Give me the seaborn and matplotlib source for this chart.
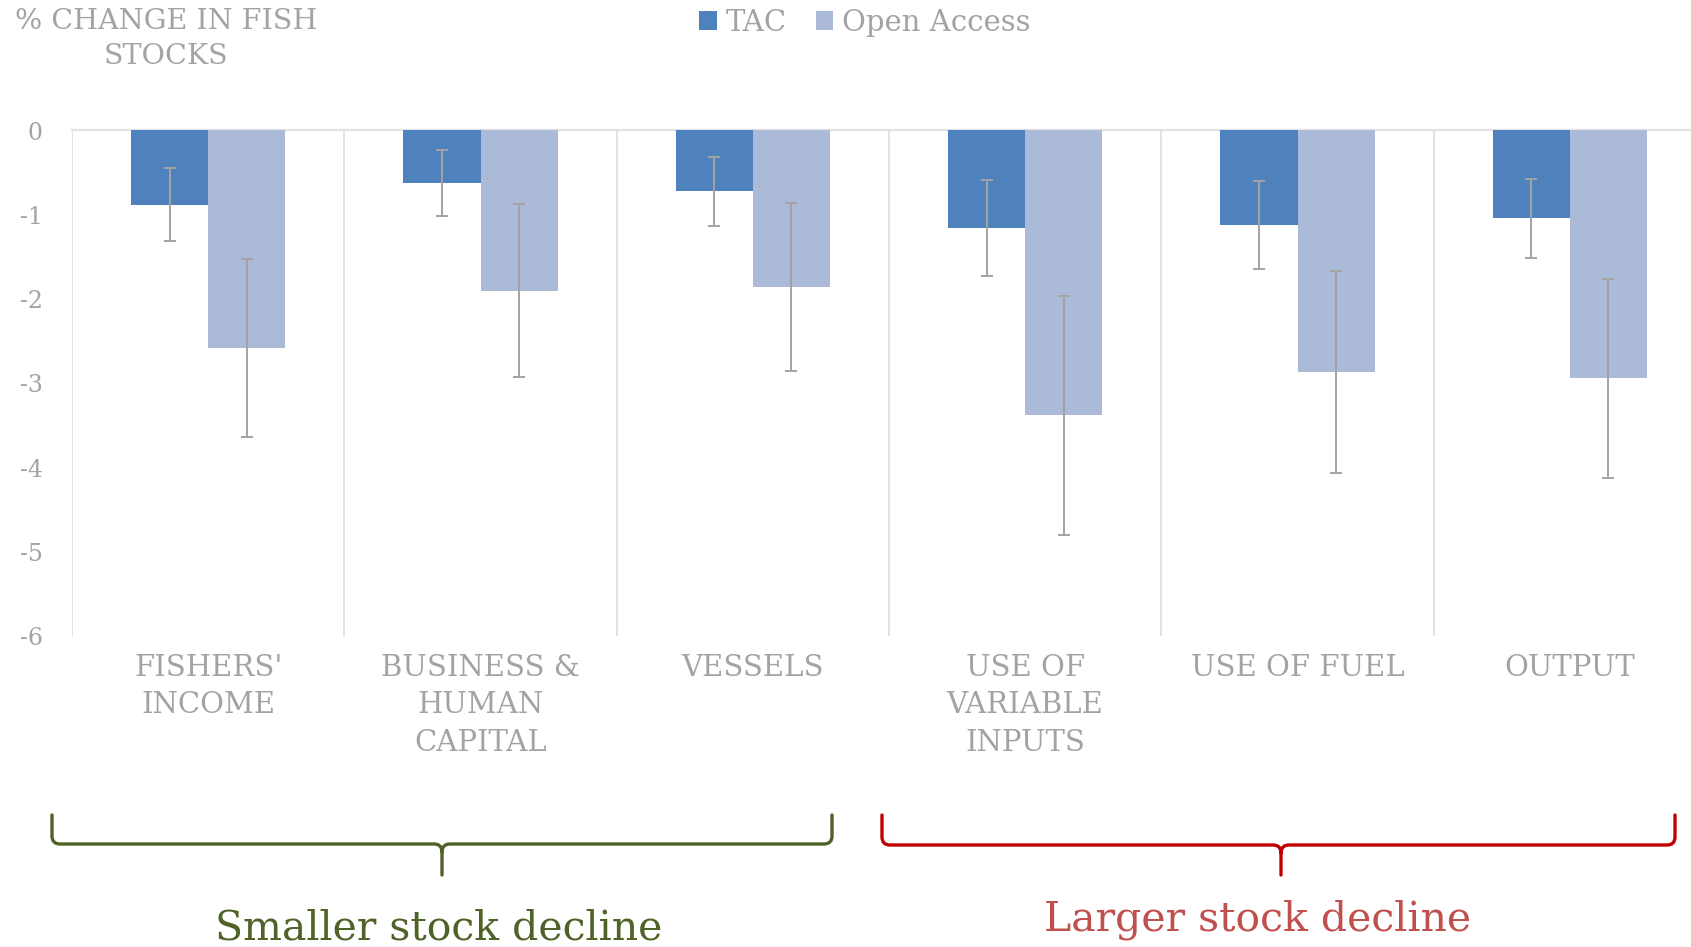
import matplotlib
matplotlib.use("Agg")
import matplotlib.pyplot as plt
import seaborn as sns
import pandas as pd
from matplotlib.path import Path
from matplotlib.patches import PathPatch

# -------------------------
# Data
# -------------------------
categories = [
    "FISHERS'\nINCOME",
    "BUSINESS &\nHUMAN\nCAPITAL",
    "VESSELS",
    "USE OF\nVARIABLE\nINPUTS",
    "USE OF FUEL",
    "OUTPUT",
]
series_names = ["TAC", "Open Access"]
tac_values = [-0.88, -0.62, -0.72, -1.16, -1.12, -1.04]
tac_errors = [0.43, 0.39, 0.41, 0.57, 0.52, 0.47]
oa_values = [-2.58, -1.90, -1.86, -3.38, -2.87, -2.94]
oa_errors = [1.06, 1.03, 1.00, 1.42, 1.20, 1.18]
y_ticks = [0, -1, -2, -3, -4, -5, -6]
group_labels = ["Smaller stock decline", "Larger stock decline"]

COLORS = ["#4F81BD", "#AABAD7"]
GRAY = "#A3A3A3"
GRID = "#E3E3E3"
FONT = "DejaVu Serif"

sns.set_theme(style="white")
plt.rcParams["font.family"] = [FONT, "DejaVu Sans"]

df = pd.DataFrame({
    "category": categories * 2,
    "series": [series_names[0]] * len(categories) + [series_names[1]] * len(categories),
    "value": tac_values + oa_values,
})

W, H = 1691, 947
fig = plt.figure(figsize=(W / 100, H / 100), dpi=100)
ax = fig.add_axes([72 / W, 1 - 636 / H, 1634 / W, 505.5 / H])

sns.barplot(
    data=df, x="category", y="value", hue="series",
    palette=COLORS, saturation=1, width=0.567, errorbar=None, ax=ax,
    edgecolor="none", zorder=3,
)

# error bars on top of each bar
for cont, errs in zip(ax.containers, [tac_errors, oa_errors]):
    xs = [p.get_x() + p.get_width() / 2 for p in cont.patches]
    ys = [p.get_y() + p.get_height() for p in cont.patches]
    ax.errorbar(xs, ys, yerr=errs, fmt="none", ecolor=GRAY,
                elinewidth=1.4, capsize=4.5, capthick=1.4, zorder=4)

ax.set_ylim(-6, 0)
ax.set_xlim(-0.5, len(categories) - 0.5)
ax.set_yticks(y_ticks)
ax.set_yticklabels([str(t) for t in y_ticks])
ax.set_xlabel("")
ax.set_ylabel("")

# category separators
ax.set_xticks([i + 0.5 for i in range(-1, len(categories))], minor=True)
ax.grid(which="minor", axis="x", color=GRID, lw=1.4, zorder=0)
ax.grid(which="major", axis="both", visible=False)
ax.tick_params(axis="both", which="both", length=0)
ax.tick_params(axis="y", pad=21, labelsize=17, labelcolor=GRAY)
ax.tick_params(axis="x", pad=13, labelsize=21, labelcolor=GRAY)
for lab in ax.get_xticklabels():
    lab.set_linespacing(1.42)
    lab.set_ha("center")
    lab.set_multialignment("center")
for side in ["left", "right", "bottom"]:
    ax.spines[side].set_visible(False)
ax.spines["top"].set_color(GRID)
ax.spines["top"].set_linewidth(1.6)

# legend at the top
handles, labels = ax.get_legend_handles_labels()
ax.get_legend().remove()
leg = fig.legend(
    handles, labels, loc="center", bbox_to_anchor=(865 / W, 1 - 23 / H),
    ncol=2, frameon=False, fontsize=21, handlelength=0.6, handleheight=0.6,
    handletextpad=0.3, columnspacing=1.0, borderpad=0,
)
for t in leg.get_texts():
    t.set_color(GRAY)

# axis title top-left
fig.text(166 / W, 1 - 8 / H, "% CHANGE IN FISH\nSTOCKS", ha="center", va="top",
         multialignment="center", fontsize=20.5, color=GRAY, linespacing=1.4)


# curly brackets under the groups
def brace(x0, x1, xc, top, mid, tip, color):
    r = 8
    tr = lambda x, y: (x / W, 1 - y / H)
    verts = [
        (x0, top), (x0, mid - r), (x0, mid), (x0 + r, mid),
        (xc - r, mid), (xc, mid), (xc, mid + r), (xc, tip),
        (xc, mid + r), (xc, mid), (xc + r, mid),
        (x1 - r, mid), (x1, mid), (x1, mid - r), (x1, top),
    ]
    codes = [
        Path.MOVETO, Path.LINETO, Path.CURVE3, Path.CURVE3,
        Path.LINETO, Path.CURVE3, Path.CURVE3, Path.LINETO,
        Path.MOVETO, Path.CURVE3, Path.CURVE3,
        Path.LINETO, Path.CURVE3, Path.CURVE3, Path.LINETO,
    ]
    path = Path([tr(*v) for v in verts], codes)
    fig.add_artist(PathPatch(path, facecolor="none", edgecolor=color,
                             lw=2.4, transform=fig.transFigure, capstyle="round"))


brace(52, 832, 442, 815, 844, 875, "#4F6228")
brace(882, 1675, 1281, 815, 845, 875, "#C00000")

fig.text(439 / W, 1 - 928 / H, group_labels[0], ha="center", va="center",
         fontsize=29.5, color="#4F6228")
fig.text(1258 / W, 1 - 920 / H, group_labels[1], ha="center", va="center",
         fontsize=29.5, color="#C0504D")

fig.savefig("out.png", dpi=100)
